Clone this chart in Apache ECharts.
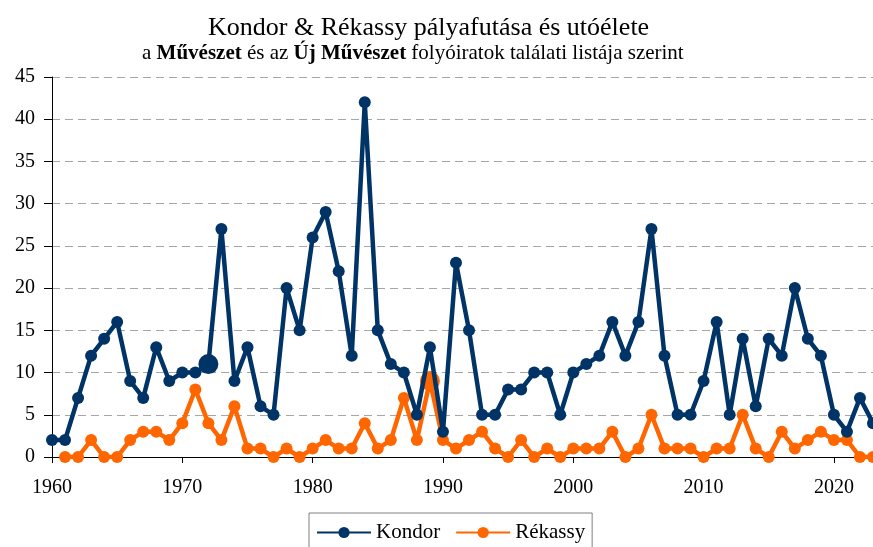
<!DOCTYPE html>
<html>
<head>
<meta charset="utf-8">
<script src="https://cdn.jsdelivr.net/npm/echarts@6/dist/echarts.min.js"></script>
<style>
  html, body { margin: 0; padding: 0; background: #fff; }
  #chart { width: 873px; height: 547px; }
</style>
</head>
<body>
<div id="chart"></div>
<script>
// years 1960-2023
const kondorStart = 1960;
const kondor = [
  2, 2, 7, 12, 14, 16, 9, 7, 13, 9,
  10, 10, 11, 27, 9, 13, 6, 5, 20, 15,
  26, 29, 22, 12, 42, 15, 11, 10, 5, 13,
  3, 23, 15, 5, 5, 8, 8, 10, 10, 5,
  10, 11, 12, 16, 12, 16, 27, 12, 5, 5,
  9, 16, 5, 14, 6, 14, 12, 20, 14, 12,
  5, 3, 7, 4
];
// years 1961-2023
const rekassyStart = 1961;
const rekassy = [
  0, 0, 2, 0, 0, 2, 3, 3, 2,
  4, 8, 4, 2, 6, 1, 1, 0, 1, 0,
  1, 2, 1, 1, 4, 1, 2, 7, 2, 9,
  2, 1, 2, 3, 1, 0, 2, 0, 1, 0,
  1, 1, 1, 3, 0, 1, 5, 1, 1, 1,
  0, 1, 1, 5, 1, 0, 3, 1, 2, 3,
  2, 2, 0, 0
];
// highlighted (bigger) points
const kondorBig = [1972];
const rekassyBig = [1989];

const serif = "'Liberation Serif', 'Times New Roman', serif";

function toPoints(start, values, big) {
  return values.map((v, i) => {
    const yr = start + i;
    const p = { value: [yr, v] };
    if (big.includes(yr)) p.symbolSize = 20;
    return p;
  });
}

const myChart = echarts.init(document.getElementById('chart'));
const option = {
  animation: false,
  backgroundColor: '#fff',
  title: [
    {
      text: 'Kondor & Rékassy pályafutása és utóélete',
      left: 203, top: 10,
      textStyle: { fontFamily: serif, fontSize: 26, fontWeight: 'normal', color: '#000' }
    },
    {
      text: 'a {b|Művészet} és az {b|Új Művészet} folyóiratok találati listája szerint',
      left: 137, top: 38,
      textStyle: {
        fontFamily: serif, fontSize: 21, fontWeight: 'normal', color: '#000',
        rich: { b: { fontFamily: serif, fontSize: 21, fontWeight: 'bold', color: '#000' } }
      }
    }
  ],
  legend: {
    data: ['Kondor', 'Rékassy'],
    left: 309, top: 513,
    itemWidth: 54, itemHeight: 14, itemGap: 15,
    padding: [9, 7, 14, 7],
    borderColor: '#808080', borderWidth: 1,
    backgroundColor: '#fff',
    textStyle: { fontFamily: serif, fontSize: 21, color: '#000' }
  },
  grid: { left: 52, right: -2, top: 77, bottom: 90, containLabel: false },
  xAxis: {
    type: 'value', min: 1960, max: 2023, interval: 10,
    axisLine: { lineStyle: { color: '#000', width: 1 } },
    axisTick: { show: true, length: 6, lineStyle: { color: '#000' } },
    splitLine: { show: false },
    axisLabel: {
      fontFamily: serif, fontSize: 20, color: '#000', margin: 21,
      showMaxLabel: false,
      formatter: v => (v % 10 === 0 ? String(v) : '')
    }
  },
  yAxis: {
    type: 'value', min: 0, max: 45, interval: 5,
    axisLine: { show: true, lineStyle: { color: '#000', width: 1 } },
    axisTick: { show: true, length: 8, lineStyle: { color: '#000' } },
    splitLine: { show: true, lineStyle: { color: '#a6a6a6', width: 1, type: [8, 5] } },
    axisLabel: { fontFamily: serif, fontSize: 20, color: '#000', margin: 17 }
  },
  series: [
    {
      name: 'Kondor', type: 'line', z: 3,
      data: toPoints(kondorStart, kondor, kondorBig),
      symbol: 'circle', symbolSize: 12, showSymbol: true, showAllSymbol: true,
      itemStyle: { color: '#003366' },
      lineStyle: { color: '#003366', width: 4.5 }
    },
    {
      name: 'Rékassy', type: 'line', z: 2,
      data: toPoints(rekassyStart, rekassy, rekassyBig),
      symbol: 'circle', symbolSize: 12, showSymbol: true, showAllSymbol: true,
      itemStyle: { color: '#ff6600' },
      lineStyle: { color: '#ff6600', width: 4.5 }
    }
  ]
};
option && myChart.setOption(option);
</script>
</body>
</html>
